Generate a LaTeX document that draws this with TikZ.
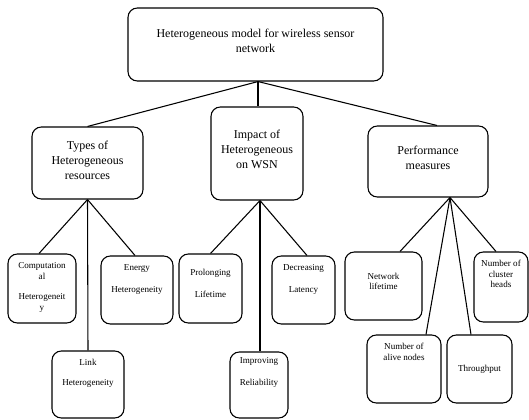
\documentclass[tikz,border=0pt]{standalone}
\usepackage{fontspec}
\setmainfont{Liberation Serif}
\usepackage{tikz}
\usetikzlibrary{calc}
\newcommand{\pxl}{0.75pt}
\newcommand{\boxline}{0.8pt}
\newcommand{\bigtext}{\fontsize{9}{11.25}\selectfont}
\newcommand{\smalltext}{\fontsize{6.8}{8}\selectfont}

\begin{document}
\begin{tikzpicture}[x=\pxl, y=-\pxl,
  box/.style={draw, rounded corners=7pt, line width=\boxline, inner sep=0pt},
  txt/.style={align=center, inner sep=0pt, font=\bigtext},
  small/.style={align=center, inner sep=0pt, font=\smalltext},
  wire/.style={line width=\boxline}]
\useasboundingbox (0,0) rectangle (529,419);
%top
\node[box, minimum width=255*\pxl, minimum height=73*\pxl, label={[txt, yshift=4*\pxl]center:{Heterogeneous model for wireless sensor\\network}}] (1) at (255.5, 44.5) {};
%middle row
\node[box, minimum width=111*\pxl, minimum height=72*\pxl, label={[txt, yshift=3*\pxl]center:{Types of\\Heterogeneous\\resources}}] (2) at (87.5, 163) {};
\node[box, minimum width=92*\pxl, minimum height=93*\pxl, label={[txt, yshift=4.5*\pxl]center:{Impact of\\Heterogeneous\\on WSN}}] (3) at (257, 153.5) {};
\node[box, minimum width=120*\pxl, minimum height=71*\pxl, label={[txt, yshift=4*\pxl]center:{Performance\\measures}}] (4) at (428, 161.5) {};
%types
\node[box, minimum width=68*\pxl, minimum height=69*\pxl, label={[small, yshift=1*\pxl]center:{Computation\\al\\[7.5pt]Heterogeneit\\y}}] (5) at (42, 288.5) {};
\node[box, minimum width=72*\pxl, minimum height=67*\pxl, label={[small, yshift=11.5*\pxl]center:{Link\\[7pt]Heterogeneity}}] (6) at (88, 384.5) {};
\node[box, minimum width=72*\pxl, minimum height=68*\pxl, label={[small, yshift=10.5*\pxl]center:{Energy\\[9pt]Heterogeneity}}] (7) at (137, 290) {};
%impact
\node[box, minimum width=63*\pxl, minimum height=69*\pxl, label={[small, yshift=5*\pxl]center:{Prolonging\\[9pt]Lifetime}}] (8) at (210.5, 288.5) {};
\node[box, minimum width=58*\pxl, minimum height=66*\pxl, label={[small, yshift=12.5*\pxl]center:{Improving\\[8pt]Reliability}}] (9) at (259, 385) {};
\node[box, minimum width=63*\pxl, minimum height=68*\pxl, label={[small, yshift=11*\pxl]center:{Decreasing\\[8.5pt]Latency}}] (10) at (303.5, 290) {};
%performance
\node[box, minimum width=77*\pxl, minimum height=68*\pxl, label={[small, yshift=4.5*\pxl]center:{Network\\lifetime}}] (11) at (383.5, 286) {};
\node[box, minimum width=74*\pxl, minimum height=68*\pxl, label={[small, yshift=17*\pxl]center:{Number of\\alive nodes}}] (12) at (404, 369) {};
\node[box, minimum width=65*\pxl, minimum height=68*\pxl, label={[small]center:{Throughput}}] (13) at (479.5, 369) {};
\node[box, minimum width=54*\pxl, minimum height=70*\pxl, label={[small, yshift=13*\pxl]center:{Number of\\cluster\\heads}}] (14) at (501, 287) {};
%connectors
\draw[wire] ($(1.south)+(2.5,0)$) -- (2.north);
\draw[wire] ($(1.south)+(2.5,0)$) -- ($(3.north)+(1,0)$);
\draw[wire] ($(1.south)+(2.5,0)$) -- ($(4.north)+(9,0)$);
\draw[wire] (2.south) -- ($(5.north)+(-3,0)$);
\draw[wire] (2.south) -- (6.north);
\draw[wire] (2.south) -- ($(7.north)+(-2,0)$);
\draw[wire] ($(3.south)+(3,0)$) -- (8.north);
\draw[wire] ($(3.south)+(3,0)$) -- ($(9.north)+(1,0)$);
\draw[wire] ($(3.south)+(3,0)$) -- ($(10.north)+(3.5,0)$);
\draw[wire] ($(4.south)+(22,0)$) -- ($(11.north)+(16.5,0)$);
\draw[wire] ($(4.south)+(22,0)$) -- ($(12.north)+(22,0)$);
\draw[wire] ($(4.south)+(22,0)$) -- ($(13.north)+(-8.5,0)$);
\draw[wire] ($(4.south)+(22,0)$) -- ($(14.north)+(-5,0)$);
\end{tikzpicture}
\end{document}
